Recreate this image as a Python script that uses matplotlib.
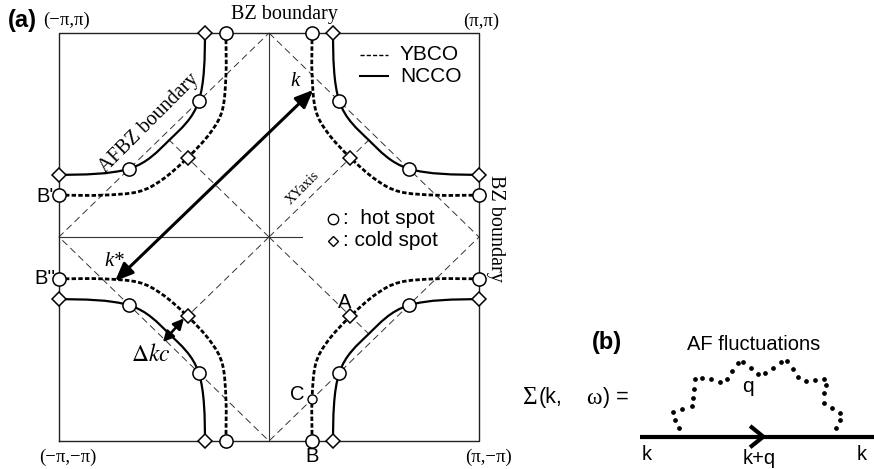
import numpy as np
import matplotlib
matplotlib.use("Agg")
import matplotlib.pyplot as plt
from matplotlib.path import Path
from matplotlib.patches import PathPatch, FancyArrowPatch

plt.rcParams["lines.scale_dashes"] = False
plt.rcParams["mathtext.fontset"] = "stix"

SANS = "Liberation Sans"
SERIF = "Liberation Serif"

# ---- Fermi surfaces (units of pi, measured from the nearest zone corner) ----
# u = distance along kx from the corner, v = distance along ky from the corner
ncco_edge = 0.695            # where the NCCO surface meets the BZ boundary (cold spot)
ncco_hot = (0.665, 0.335)    # NCCO hot spot on the AFBZ boundary
ncco_diag = 0.525            # NCCO crossing of the zone diagonal
ybco_edge = 0.795            # YBCO surface at the BZ boundary
ybco_hot = (0.795, 0.205)    # YBCO crossing of the AFBZ boundary (point C)
ybco_bend = [(0.778, 0.377), (0.72, 0.49)]
ybco_cold = 0.612            # YBCO cold spot on the diagonal (point A)

corners = [(1, 1), (-1, 1), (-1, -1), (1, -1)]

# nesting vector k* -> k and the Delta k_c gap (absolute kx, ky in units of pi)
kstar_point = (-0.733, -0.216)
k_point = (0.211, 0.721)
dkc_start = (-0.405, -0.399)
dkc_end = (-0.505, -0.515)

# panel (b): dotted AF-fluctuation propagator
af_dots_x = [679.3, 675.0, 673.3, 682.3, 691.7, 693.3, 694.0, 695.0, 701.7, 710.7,
             720.0, 727.3, 731.7, 737.7, 743.3, 750.7, 758.3, 765.0, 773.3, 780.7,
             787.3, 792.7, 798.3, 805.7, 815.0, 824.3, 826.0, 824.3, 824.0, 831.7,
             840.0, 840.0, 835.7]
af_dots_y = [427.7, 420.0, 412.3, 409.3, 406.0, 398.3, 389.3, 379.3, 377.7, 379.3,
             381.7, 379.0, 371.0, 362.7, 361.7, 367.7, 374.0, 373.3, 367.7, 362.3,
             360.7, 369.3, 376.7, 380.7, 380.0, 379.3, 385.0, 393.3, 402.7, 408.3,
             412.7, 420.0, 427.7]


def smooth_path(anchors, t_start, t_end):
    """Cubic Bezier path through anchors (Catmull-Rom tangents)."""
    P = np.asarray(anchors, float)
    n = len(P)
    T = np.zeros_like(P)
    for i in range(1, n - 1):
        T[i] = (P[i + 1] - P[i - 1]) / 2
    T[0] = np.asarray(t_start, float) * np.linalg.norm(P[1] - P[0])
    T[-1] = np.asarray(t_end, float) * np.linalg.norm(P[-1] - P[-2])
    verts = [P[0]]
    codes = [Path.MOVETO]
    for i in range(n - 1):
        verts += [P[i] + T[i] / 3, P[i + 1] - T[i + 1] / 3, P[i + 1]]
        codes += [Path.CURVE4] * 3
    return np.array(verts), codes


def to_xy(uv, corner):
    uv = np.atleast_2d(np.asarray(uv, float))
    sx, sy = corner
    return np.column_stack([sx * (1 - uv[:, 0]), sy * (1 - uv[:, 1])])


def swap(p):
    return (p[1], p[0])


ncco_anchors = [(ncco_edge, 0), ncco_hot, (ncco_diag, ncco_diag), swap(ncco_hot), (0, ncco_edge)]
ybco_anchors = ([(ybco_edge, 0), ybco_hot] + ybco_bend + [(ybco_cold, ybco_cold)]
                + [swap(p) for p in ybco_bend[::-1]] + [swap(ybco_hot), (0, ybco_edge)])

W, H = 874, 469
fig = plt.figure(figsize=(W / 100, H / 100), dpi=100)

# Brillouin-zone axes: square spans px 59..479 horizontally, 33..441 vertically
x0, x1, y0, y1 = 59, 479, 33, 441
sxp = (x1 - x0) / 2
syp = (y1 - y0) / 2
ax = fig.add_axes([0, 0, 1, 1])
ax.set_xlim(-1 - x0 / sxp, 1 + (W - x1) / sxp)
ax.set_ylim(-1 - (H - y1) / syp, 1 + y0 / syp)
ax.axis("off")

# zone boundary and axes
ax.plot([-1, 1, 1, -1, -1], [-1, -1, 1, 1, -1], color="#222222", lw=1.0, zorder=2)
ax.plot([0, 0], [-1, 1], color="#333333", lw=0.8, zorder=1)
ax.plot([-1, 0.157], [0, 0], color="#333333", lw=0.8, zorder=1)

# AFBZ boundary (diamond) and diagonals
thin_dash = dict(color="#333333", lw=0.7, ls=(0, (5, 3)), zorder=1)
ax.plot([0, 1, 0, -1, 0], [1, 0, -1, 0, 1], **thin_dash)
for c in corners:
    end = to_xy((ncco_diag, ncco_diag), c)[0]
    ax.plot([0, end[0]], [0, end[1]], **thin_dash)

# Fermi surfaces
for c in corners:
    v, codes = smooth_path(ncco_anchors, (0, 1), (-1, 0))
    ax.add_patch(PathPatch(Path(to_xy(v, c), codes), fill=False, lw=1.6,
                           edgecolor="black", zorder=3))
    v, codes = smooth_path(ybco_anchors, (0, 1), (-1, 0))
    ax.add_patch(PathPatch(Path(to_xy(v, c), codes), fill=False, lw=2.0,
                           edgecolor="black", ls=(0, (3.2, 1.6)), zorder=3))

circ = dict(ls="none", marker="o", ms=9.5, mfc="white", mec="black", mew=1.1, zorder=5)
diam = dict(ls="none", marker="D", ms=7.4, mfc="white", mec="black", mew=1.1, zorder=5)
for c in corners:
    p = to_xy([(ncco_edge, 0), (0, ncco_edge)], c)
    ax.plot(p[:, 0], p[:, 1], **diam)
    p = to_xy([ncco_hot, swap(ncco_hot)], c)
    ax.plot(p[:, 0], p[:, 1], **circ)
    p = to_xy([(ybco_edge, 0), (0, ybco_edge)], c)
    ax.plot(p[:, 0], p[:, 1], **circ)
    p = to_xy([(ybco_cold, ybco_cold)], c)
    ax.plot(p[:, 0], p[:, 1], **diam)
pc = to_xy([ybco_hot], (1, -1))
ax.plot(pc[:, 0], pc[:, 1], ls="none", marker="o", ms=6.5, mfc="white",
        mec="black", mew=1.0, zorder=5)

# arrows
ax.add_patch(FancyArrowPatch(kstar_point, k_point,
                             arrowstyle="<|-|>,head_length=0.9,head_width=0.38",
                             mutation_scale=12, lw=2.2, color="black",
                             shrinkA=0, shrinkB=0, zorder=6))
ax.add_patch(FancyArrowPatch(dkc_start, dkc_end,
                             arrowstyle="<|-|>,head_length=0.9,head_width=0.45",
                             mutation_scale=7, lw=1.8, color="black",
                             shrinkA=0, shrinkB=0, zorder=6))

# ---- overlay in pixel coordinates for labels and panel (b) ----
ap = fig.add_axes([0, 0, 1, 1], facecolor="none")
ap.set_xlim(0, W)
ap.set_ylim(H, 0)
ap.axis("off")


def t(x, y, s, size=14, family=SANS, **kw):
    kw.setdefault("ha", "center")
    kw.setdefault("va", "center")
    ap.text(x, y, s, fontsize=size, family=family, **kw)


t(22, 21, "(a)", size=17, weight="bold")
t(67, 20, "(\u2212\u03c0,\u03c0)", size=13.5, family=SERIF)
t(481, 21, "(\u03c0,\u03c0)", size=13.5, family=SERIF)
t(68, 457, "(\u2212\u03c0,\u2212\u03c0)", size=13.5, family=SERIF)
t(489, 457, "(\u03c0,\u2212\u03c0)", size=13.5, family=SERIF)
t(284, 14, "BZ boundary", size=14.5, family=SERIF)
t(495, 228, "BZ boundary", size=14.5, family=SERIF, rotation=-90)
t(149, 123, "AFBZ boundary", size=14.5, family=SERIF, rotation=45)
t(303, 188, "XYaxis", size=10, family=SERIF, rotation=45)

t(54, 197, "B'", size=14.5, ha="right")
t(55, 279, "B''", size=14.5, ha="right")
t(345, 302, "A", size=14.5)
t(297, 395, "C", size=14.5)
t(312, 456, "B", size=14.5)

t(295, 82, "k", size=15, family=SERIF, style="italic")
t(114, 262, "k*", size=15, family=SERIF, style="italic")
t(151, 355, r"$\Delta kc$", size=17)

# legend
ap.plot([360, 388], [55, 55], color="black", lw=1.0, ls=(0, (3, 1.5)))
ap.plot([360, 388], [76, 76], color="black", lw=1.5)
t(400, 55, "YBCO", size=15, ha="left")
t(400, 77, "NCCO", size=15, ha="left")
ap.plot([333], [219], ls="none", marker="o", ms=7.5, mfc="white", mec="black", mew=1.0)
ap.plot([333], [241], ls="none", marker="D", ms=5.5, mfc="white", mec="black", mew=1.0)
t(343, 219, ":  hot spot", size=15, ha="left")
t(343, 241, ": cold spot", size=15, ha="left")

# ---- panel (b): self-energy diagram ----
t(607, 342, "(b)", size=17, weight="bold")
t(754, 344, "AF fluctuations", size=14.5)
t(523, 398, "\u03a3", size=18, family=SERIF, ha="left")
t(539, 398, "(k,", size=15.5, ha="left")
t(586, 398, "\u03c9", size=17, family=SERIF, ha="left")
t(603, 398, ") =", size=15.5, ha="left")
ap.plot([640, W], [436.7, 436.7], color="black", lw=3.0, solid_capstyle="butt")
ap.plot([751.7, 763.3, 751.7], [427.3, 436.7, 446.0], color="black", lw=3.0,
        solid_joinstyle="miter")
ap.plot(af_dots_x, af_dots_y, ls="none", marker="o", ms=2.4, color="black")
t(748, 386, "q", size=15)
t(647, 455, "k", size=14.5)
t(759, 459, "k+q", size=14.5)
t(862, 455, "k", size=14.5)

fig.savefig("out.png", dpi=100)
